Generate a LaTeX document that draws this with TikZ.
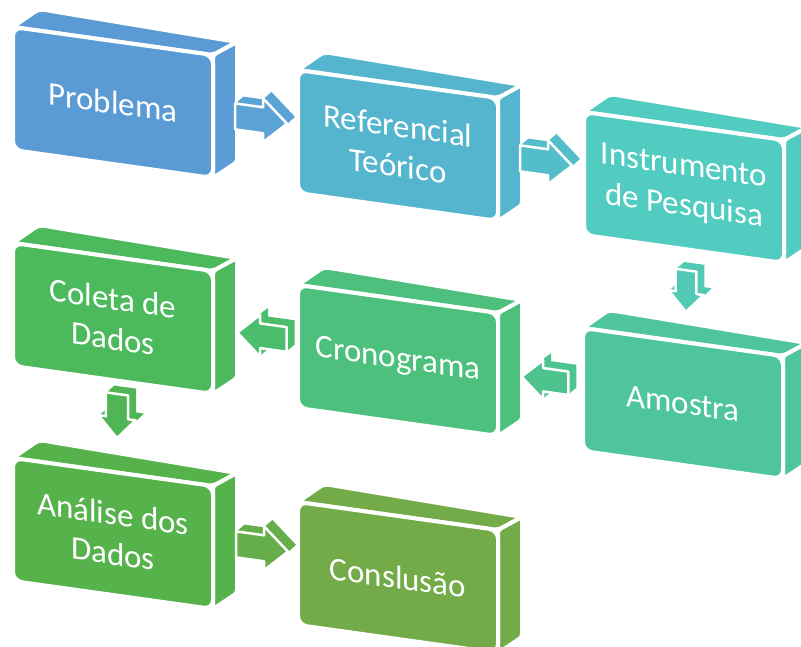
\documentclass[tikz,border=0pt]{standalone}
\usepackage{fontspec}
\setmainfont{Carlito}
\definecolor{c1}{HTML}{5B9BD5}
\definecolor{c2}{HTML}{56B5CE}
\definecolor{c3}{HTML}{52CCC1}
\definecolor{c4}{HTML}{4FC59E}
\definecolor{c5}{HTML}{4CC07C}
\definecolor{c6}{HTML}{4BB95C}
\definecolor{c7}{HTML}{56B24B}
\definecolor{c8}{HTML}{72AB48}
\definecolor{a1}{HTML}{5AA3D4}
\definecolor{a2}{HTML}{54BDCA}
\definecolor{a3}{HTML}{51C9B4}
\definecolor{a4}{HTML}{4DC38D}
\definecolor{a5}{HTML}{4BBD6C}
\definecolor{a6}{HTML}{50B554}
\definecolor{a7}{HTML}{66AE49}
\tikzset{
  face/.style={fill=#1, draw=white, line width=4pt, line join=round},
  lbl/.style={text=white, align=center, font=\fontsize{33}{40}\selectfont, transform shape, inner sep=0pt},
}
\newcommand\mybox[5]{%
 \begin{scope}[shift={(#1,#2)}]
   \filldraw[face=#3, rounded corners=5pt] (0,0) -- (26,-18) -- (224,15) -- (200,28) -- cycle;
   \filldraw[face=#3, rounded corners=3pt] (200,28) -- (224,15) -- (224,135) -- (200,151) -- cycle;
   \begin{scope}[yslant=-0.14]
     \filldraw[face=#3, rounded corners=9pt] (0,0) rectangle (200,123);
     \node[lbl] (#4) at (100,61.5) {#5};
   \end{scope}
 \end{scope}}
\newcommand\blkarrow[5]{%
 \foreach \t in {0,...,8} {
   \fill[#4, shift={({#1+\t},{#2-0.85*\t})}, yslant=-0.14, rotate=#3, scale=#5]
     (-26,-13) -- (2,-13) -- (2,-22) -- (26,0) -- (2,22) -- (2,13) -- (-26,13) -- cycle;
 }
 \filldraw[face=#4, line width=2.5pt, shift={(#1,#2)}, yslant=-0.14, rotate=#3, scale=#5]
     (-26,-13) -- (2,-13) -- (2,-22) -- (26,0) -- (2,22) -- (2,13) -- (-26,13) -- cycle;
}
\begin{document}
\begin{tikzpicture}[x=1pt, y=-1pt]
\useasboundingbox (0,0) rectangle (801,646);
\mybox{13}{27}{c1}{n1}{Problema}
\mybox{298}{70}{c2}{n2}{Referencial\\Teórico}
\mybox{584}{112}{c3}{n3}{Instrumento\\de Pesquisa}
\mybox{583}{328}{c4}{n4}{Amostra}
\mybox{298}{285}{c5}{n5}{Cronograma}
\mybox{13}{243}{c6}{n6}{Coleta de\\Dados}
\mybox{13}{458}{c7}{n7}{Análise dos\\Dados}
\mybox{298}{502}{c8}{n8}{Conslusão}
\blkarrow{261}{120}{0}{a1}{1}
\blkarrow{546}{162}{0}{a2}{1}
\blkarrow{686}{291}{-90}{a3}{0.8}
\blkarrow{545}{380}{180}{a4}{0.9}
\blkarrow{262}{336}{180}{a5}{0.95}
\blkarrow{117}{416}{-90}{a6}{0.85}
\blkarrow{262}{548}{0}{a7}{1}
\end{tikzpicture}
\end{document}
